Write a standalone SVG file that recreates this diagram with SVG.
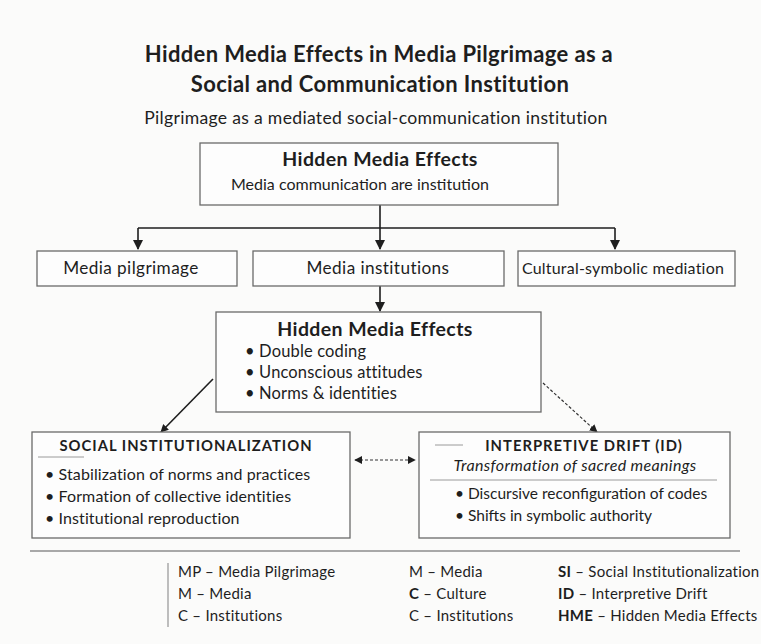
<svg xmlns="http://www.w3.org/2000/svg" width="761" height="644" viewBox="0 0 761 644">
  <style>
    text { font-family: Lato, "Open Sans", "Liberation Sans", sans-serif; fill: #1e1e1e; }
    .title { font-size: 22px; font-weight: 700; text-anchor: middle; letter-spacing: 0.35px; }
    .sub { font-size: 17.6px; text-anchor: middle; letter-spacing: 0.3px; }
    .box { fill: #fdfdfd; stroke: #6a6a6a; stroke-width: 1.3; }
    .h { font-size: 19.5px; font-weight: 700; text-anchor: middle; letter-spacing: 0.4px; }
    .c { font-size: 16px; text-anchor: middle; }
    .lbl { font-size: 17.2px; text-anchor: middle; letter-spacing: 0.4px; }
    .b { font-size: 16.5px; letter-spacing: 0.15px; }
    .bl { font-size: 16px; letter-spacing: 0.1px; }
    .br { font-size: 15.5px; }
    .caps { font-size: 14.8px; font-weight: 700; text-anchor: middle; letter-spacing: 1px; }
    .leg { font-size: 15px; letter-spacing: 0.25px; }
    .ab { font-weight: 700; }
    .wire { stroke: #1e1e1e; stroke-width: 1.6; fill: none; }
    .dash { stroke: #333; stroke-width: 1.2; fill: none; stroke-dasharray: 3 2; }
    .rule { stroke: #9a9a9a; stroke-width: 1; }
  </style>
  <defs>
    <marker id="tip" viewBox="0 0 10 10" refX="9" refY="5" markerWidth="8" markerHeight="8" markerUnits="userSpaceOnUse" orient="auto-start-reverse">
      <path d="M0,0 L10,5 L0,10 z" fill="#1e1e1e"/>
    </marker>
    <marker id="tipL" viewBox="0 0 10 10" refX="9" refY="5" markerWidth="10" markerHeight="10" markerUnits="userSpaceOnUse" orient="auto-start-reverse">
      <path d="M0,0 L10,5 L0,10 z" fill="#1e1e1e"/>
    </marker>
  </defs>

  <rect width="761" height="644" fill="#fbfbfa"/>

  <!-- heading -->
  <text class="title" x="379" y="62">Hidden Media Effects in Media Pilgrimage as a</text>
  <text class="title" x="380" y="92">Social and Communication Institution</text>
  <text class="sub" x="376" y="124">Pilgrimage as a mediated social-communication institution</text>

  <!-- connectors -->
  <g id="connectors">
    <path class="wire" d="M380,205 V228"/>
    <path class="wire" d="M138,228 H615"/>
    <path class="wire" d="M138,228 V249" marker-end="url(#tipL)"/>
    <path class="wire" d="M380,228 V249" marker-end="url(#tipL)"/>
    <path class="wire" d="M615,228 V249" marker-end="url(#tipL)"/>
    <path class="wire" d="M380,286 V311" marker-end="url(#tipL)"/>
    <path class="wire" d="M213,379 L161,432" stroke-width="1.3" marker-end="url(#tip)"/>
    <path class="dash" d="M543,383 L597,432" marker-end="url(#tip)"/>
    <path class="dash" d="M355,460 L415,460" marker-start="url(#tip)" marker-end="url(#tip)"/>
  </g>

  <g id="hme-top">
    <rect class="box" x="200" y="143" width="358" height="62"/>
    <text class="h" x="380" y="166">Hidden Media Effects</text>
    <text class="c" x="360" y="190">Media communication are institution</text>
  </g>

  <g id="media-pilgrimage">
    <rect class="box" x="37" y="251" width="200" height="35"/>
    <text class="lbl" x="131" y="274">Media pilgrimage</text>
  </g>

  <g id="media-institutions">
    <rect class="box" x="253" y="251" width="251" height="35"/>
    <text class="lbl" x="378" y="274">Media institutions</text>
  </g>

  <g id="cultural-symbolic">
    <rect class="box" x="518" y="251" width="217" height="35"/>
    <text class="c" x="623" y="274" font-size="14.6" letter-spacing="0.2">Cultural-symbolic mediation</text>
  </g>

  <g id="hme-middle">
    <rect class="box" x="216" y="312" width="325" height="100"/>
    <text class="h" x="375" y="336" font-size="19" letter-spacing="0.15">Hidden Media Effects</text>
    <text class="b" x="245" y="357">•  Double coding</text>
    <text class="b" x="245" y="378">•  Unconscious attitudes</text>
    <text class="b" x="245" y="399">•  Norms &amp; identities</text>
  </g>

  <g id="social-institutionalization">
    <rect class="box" x="32" y="432" width="318" height="106"/>
    <text class="caps" x="186" y="451">SOCIAL INSTITUTIONALIZATION</text>
    <line class="rule" x1="38" y1="457" x2="84" y2="457"/>
    <text class="bl" x="45" y="480">•  Stabilization of norms and practices</text>
    <text class="bl" x="45" y="502">•  Formation of collective identities</text>
    <text class="bl" x="45" y="524">•  Institutional reproduction</text>
  </g>

  <g id="interpretive-drift">
    <rect class="box" x="419" y="432" width="311" height="106"/>
    <line class="rule" x1="435" y1="445" x2="463" y2="445"/>
    <text class="caps" x="584" y="451">INTERPRETIVE DRIFT (ID)</text>
    <text class="c" x="575" y="471" font-style="italic" font-size="16.4" letter-spacing="0.35">Transformation of sacred meanings</text>
    <line class="rule" x1="430" y1="480" x2="717" y2="480"/>
    <text class="br" x="455" y="499">•  Discursive reconfiguration of codes</text>
    <text class="br" x="455" y="521">•  Shifts in symbolic authority</text>
  </g>

  <!-- key -->
  <g id="legend">
    <line x1="30" y1="551" x2="740" y2="551" stroke="#a8a8a8" stroke-width="2"/>
    <line x1="168" y1="563" x2="168" y2="627" stroke="#a8a8a8" stroke-width="1.5"/>
    <text class="leg" x="178" y="577">MP – Media Pilgrimage</text>
    <text class="leg" x="178" y="599">M – Media</text>
    <text class="leg" x="178" y="621">C – Institutions</text>
    <text class="leg" x="409" y="577">M – Media</text>
    <text class="leg" x="409" y="599"><tspan class="ab">C</tspan> – Culture</text>
    <text class="leg" x="409" y="621">C – Institutions</text>
    <text class="leg" x="558" y="577"><tspan class="ab">SI</tspan> – Social Institutionalization</text>
    <text class="leg" x="558" y="599"><tspan class="ab">ID</tspan> – Interpretive Drift</text>
    <text class="leg" x="558" y="621"><tspan class="ab">HME</tspan> – Hidden Media Effects</text>
  </g>
</svg>
